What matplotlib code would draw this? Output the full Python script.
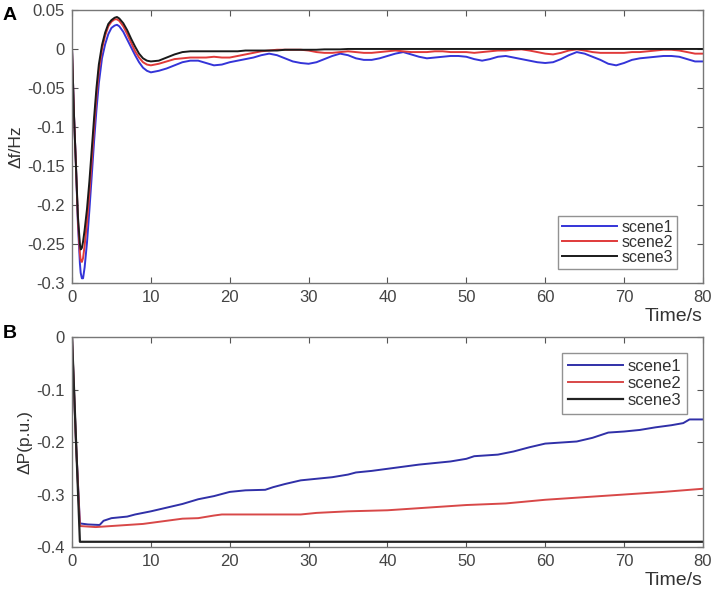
import matplotlib
matplotlib.use('Agg')
import matplotlib.pyplot as plt
import numpy as np

# ---- panel A : frequency deviation ----
t_early = [0, 0.25, 0.5, 0.75, 1.0, 1.1, 1.25, 1.4, 1.6, 1.9, 2.2, 2.5, 2.8, 3.1,
           3.4, 3.8, 4.2, 4.6, 5.0, 5.4, 5.7, 6.0, 6.5, 7.0, 7.5, 8.0, 8.5, 9.0, 9.5]
t_late = list(range(10, 81))
time_a = t_early + t_late

df_scene1 = [0, -0.085, -0.15, -0.225, -0.275, -0.287, -0.294, -0.294, -0.280, -0.248,
             -0.207, -0.163, -0.118, -0.078, -0.044, -0.012, 0.006, 0.019, 0.027, 0.030,
             0.031, 0.029, 0.022, 0.012, 0.002, -0.008, -0.017, -0.024, -0.028,
             -0.030, -0.028, -0.025, -0.021, -0.017, -0.015, -0.015, -0.018, -0.021, -0.020,
             -0.017, -0.015, -0.013, -0.011, -0.008, -0.006, -0.008, -0.012, -0.016, -0.018,
             -0.019, -0.017, -0.013, -0.009, -0.006, -0.008, -0.012, -0.014, -0.014, -0.012,
             -0.009, -0.006, -0.004, -0.007, -0.010, -0.012, -0.011, -0.010, -0.009, -0.009,
             -0.010, -0.013, -0.015, -0.013, -0.010, -0.009, -0.011, -0.013, -0.015, -0.017,
             -0.018, -0.017, -0.013, -0.008, -0.004, -0.006, -0.010, -0.014, -0.019, -0.021,
             -0.018, -0.014, -0.012, -0.011, -0.010, -0.009, -0.009, -0.010, -0.013, -0.016,
             -0.016]
df_scene2 = [0, -0.085, -0.15, -0.22, -0.262, -0.271, -0.273, -0.268, -0.252, -0.222,
             -0.185, -0.143, -0.100, -0.060, -0.028, 0.0, 0.017, 0.029, 0.035, 0.038,
             0.038, 0.036, 0.029, 0.019, 0.008, -0.003, -0.011, -0.017, -0.020,
             -0.021, -0.019, -0.016, -0.013, -0.012, -0.011, -0.011, -0.011, -0.010, -0.011,
             -0.011, -0.009, -0.007, -0.005, -0.003, -0.002, -0.001, -0.001, -0.001, -0.001,
             -0.002, -0.004, -0.005, -0.005, -0.004, -0.003, -0.004, -0.005, -0.005, -0.004,
             -0.003, -0.002, -0.003, -0.004, -0.004, -0.004, -0.003, -0.003, -0.004, -0.004,
             -0.004, -0.005, -0.004, -0.003, -0.002, -0.002, -0.001, -0.0005, -0.002, -0.004,
             -0.006, -0.007, -0.005, -0.002, -0.0005, -0.002, -0.004, -0.005, -0.005, -0.005,
             -0.005, -0.004, -0.004, -0.003, -0.002, -0.001, -0.001, -0.002, -0.004, -0.006,
             -0.006]
df_scene3 = [0, -0.085, -0.15, -0.215, -0.250, -0.257, -0.255, -0.247, -0.232, -0.205,
             -0.170, -0.129, -0.088, -0.050, -0.020, 0.005, 0.021, 0.032, 0.037, 0.040,
             0.041, 0.039, 0.033, 0.024, 0.013, 0.003, -0.006, -0.012, -0.015,
             -0.016, -0.015, -0.011, -0.007, -0.004, -0.003, -0.003, -0.003, -0.003, -0.003,
             -0.003, -0.003, -0.002, -0.002, -0.002, -0.002, -0.002, -0.001, -0.001, -0.001,
             -0.001, -0.001, -0.0005, -0.0005, -0.0005, 0, 0, 0, 0, 0,
             0, 0, 0, 0, 0, 0, 0, 0, 0, 0,
             0, 0, 0, 0, 0, 0, 0, 0, 0, 0,
             0, 0, 0, 0, 0, 0, 0, 0, 0, 0,
             0, 0, 0, 0, 0, 0, 0, 0, 0, 0,
             0]

# ---- panel B : power deviation ----
time_b1 = [0, 0.5, 1.0, 2, 3.5, 4, 5, 7, 8, 10, 12, 14, 16, 18, 20, 22, 24.5, 25.5, 27,
           29, 31, 33, 35, 36, 38, 40, 42, 44, 46, 48, 50, 51, 54, 56, 58, 60, 62, 64,
           66, 68, 70, 72, 74, 76, 77.5, 78.3, 80]
dp_scene1 = [0, -0.2, -0.355, -0.357, -0.358, -0.350, -0.345, -0.342, -0.338, -0.332,
             -0.325, -0.318, -0.309, -0.303, -0.295, -0.292, -0.291, -0.286, -0.280,
             -0.273, -0.270, -0.267, -0.262, -0.258, -0.255, -0.251, -0.247, -0.243,
             -0.240, -0.237, -0.232, -0.227, -0.224, -0.218, -0.210, -0.203, -0.201,
             -0.199, -0.192, -0.182, -0.180, -0.177, -0.172, -0.168, -0.164, -0.157, -0.157]
time_b2 = [0, 0.5, 1, 3, 5, 7, 9, 10, 12, 14, 16, 18, 19, 25, 29, 31, 35, 40, 45, 50,
           55, 60, 65, 70, 75, 80]
dp_scene2 = [0, -0.2, -0.36, -0.362, -0.360, -0.358, -0.356, -0.354, -0.350, -0.346,
             -0.345, -0.340, -0.338, -0.338, -0.338, -0.335, -0.332, -0.330, -0.325,
             -0.320, -0.317, -0.310, -0.305, -0.300, -0.295, -0.289]
time_b3 = [0, 1.0, 80]
dp_scene3 = [0, -0.39, -0.39]

labels = ['scene1', 'scene2', 'scene3']

plt.rcParams['font.family'] = ['Liberation Sans', 'DejaVu Sans']

fig = plt.figure(figsize=(7.26, 6.07), dpi=100)
axA = fig.add_axes([0.0992, 0.5338, 0.869, 0.4498])
axB = fig.add_axes([0.0992, 0.0988, 0.869, 0.346])

def style(ax):
    for s in ax.spines.values():
        s.set_color('#777777')
        s.set_linewidth(1.0)
    ax.tick_params(direction='in', top=True, right=True, length=4, pad=5,
                   color='#555555', labelcolor='#444444', labelsize=12)
    ax.set_xlim(0, 80)
    ax.set_xticks(range(0, 81, 10))

# panel A
axA.plot(time_a, df_scene1, color='#3434d8', lw=1.4, label=labels[0])
axA.plot(time_a, df_scene2, color='#e03a3a', lw=1.4, label=labels[1])
axA.plot(time_a, df_scene3, color='#1a1a1a', lw=1.4, label=labels[2])
style(axA)
axA.set_ylim(-0.3, 0.05)
yt = [0.05, 0, -0.05, -0.1, -0.15, -0.2, -0.25, -0.3]
axA.set_yticks(yt)
axA.set_yticklabels(['0.05', '0', '-0.05', '-0.1', '-0.15', '-0.2', '-0.25', '-0.3'])
axA.set_ylabel('Δf/Hz', fontsize=12.5, color='#333333', labelpad=3)
axA.set_xlabel('Time/s', fontsize=14, color='#333333', loc='right', labelpad=2)
legA = axA.legend(loc='lower right', bbox_to_anchor=(0.959, 0.051), borderaxespad=0,
                  fancybox=False, edgecolor='#777777', fontsize=11.5, handlelength=3.4,
                  labelspacing=0.0, borderpad=0.25, handletextpad=0.3)
legA.get_frame().set_linewidth(1.0)
for tx in legA.get_texts():
    tx.set_color('#333333')

# panel B
axB.plot(time_b1, dp_scene1, color='#3030a8', lw=1.4, label=labels[0])
axB.plot(time_b2, dp_scene2, color='#d84848', lw=1.4, label=labels[1])
axB.plot(time_b3, dp_scene3, color='#222222', lw=1.6, label=labels[2])
style(axB)
axB.set_ylim(-0.4, 0)
axB.set_yticks([0, -0.1, -0.2, -0.3, -0.4])
axB.set_yticklabels(['0', '-0.1', '-0.2', '-0.3', '-0.4'])
axB.set_ylabel('ΔP(p.u.)', fontsize=12.5, color='#333333', labelpad=3)
axB.set_xlabel('Time/s', fontsize=14, color='#333333', loc='right', labelpad=2)
legB = axB.legend(loc='upper right', bbox_to_anchor=(0.975, 0.924), borderaxespad=0,
                  fancybox=False, edgecolor='#777777', fontsize=12, handlelength=3.3,
                  labelspacing=0.12, borderpad=0.35, handletextpad=0.3)
legB.get_frame().set_linewidth(1.0)
for tx in legB.get_texts():
    tx.set_color('#333333')

fig.text(0.004, 1 - 16 / 607, 'A', fontsize=14, fontweight='bold', va='center')
fig.text(0.004, 1 - 334 / 607, 'B', fontsize=14, fontweight='bold', va='center')

fig.savefig('out.png', dpi=100)
